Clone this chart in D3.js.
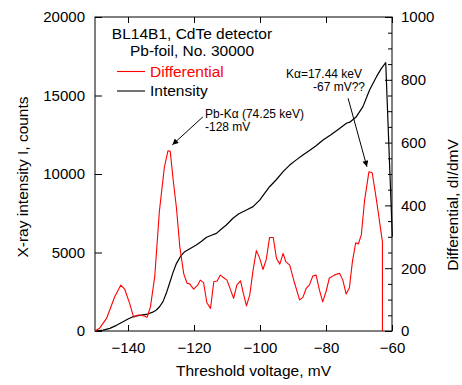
<!DOCTYPE html>
<html><head><meta charset="utf-8">
<script src="https://cdn.jsdelivr.net/npm/d3@7"></script>
<style>
body{margin:0;background:#fff}
text{font-family:"Liberation Sans",Arial,Helvetica,sans-serif;fill:#000}
</style>
</head><body>
<svg id="c" width="462" height="385"></svg>
<script>
// ---- data ----
const intensityVoltage = [-150,-147.5,-145.5,-143.5,-141.5,-140,-138.5,-136.5,-134,-132.5,-131.4,-130.4,-129.4,-128.4,-127.4,-126.4,-125.3,-124,-122.8,-121,-119.3,-117.7,-116.2,-114.7,-113.2,-111.7,-110.2,-108.2,-106.5,-105.2,-104.1,-102.1,-100.1,-98.5,-97.1,-95,-93,-91,-89,-87,-85,-83,-80.9,-78.5,-75.9,-73.8,-72.8,-70.8,-68.8,-66.8,-64.7,-63.2,-61.9,-59.9];
const intensityCounts = [0,60,170,360,590,760,910,990,1080,1200,1340,1560,1870,2400,3040,3700,4310,4780,5050,5270,5480,5720,5970,6100,6220,6500,6750,7180,7450,7600,7710,7920,8340,8800,9190,9650,10150,10570,10900,11210,11500,11800,12170,12500,12900,13230,13300,13650,14290,15350,16200,16730,17090,6000];

const diffVoltage = [-150,-148.6,-146.5,-144,-142.2,-141,-139.5,-138.3,-137,-135,-134.2,-133.2,-131.9,-130.5,-129,-127.9,-127.2,-126.3,-125.3,-124.3,-123.1,-122.1,-121.3,-120.1,-118.8,-118.1,-117.1,-116.1,-115,-114,-113,-112,-111.2,-110,-108,-107,-105.9,-105.1,-104.1,-103.1,-102.1,-101.1,-100.1,-99.1,-98.1,-97.1,-96,-95,-94,-93,-92.2,-91,-89.5,-88,-87,-86,-85,-84,-83,-82,-81,-80,-79,-77.5,-75.9,-74.9,-73.9,-72.9,-72,-71,-70.2,-69.3,-68.3,-67,-66,-64.7,-62.9,-62.9];
const differential = [0,9,40,110,146,133,88,44,51,48,44,77,173,380,520,574,572,480,390,268,182,152,150,133,147,162,154,90,72,157,159,178,171,162,104,147,160,122,80,115,194,256,232,196,228,298,298,231,213,247,221,210,152,99,107,136,147,175,178,131,93,125,168,178,184,162,118,138,221,281,277,306,417,507,504,417,284,0];

const xTickValues = [-140,-120,-100,-80,-60];
const yLeftTickValues = [0,5000,10000,15000,20000];
const yRightTickValues = [0,200,400,600,800,1000];
const yRightMinorValues = [50,100,150,250,300,350,450,500,550,650,700,750,850,900,950];

const titleLines = ["BL14B1, CdTe detector","Pb-foil, No. 30000"];
const legendLabels = ["Differential","Intensity"];
const legendColors = ["#ff0000","#000000"];

// annotations: text lines, arrow start (voltage, dI/dmV) and tip (voltage, dI/dmV)
const annotations = [
  {lines:["Pb-K\u03b1 (74.25 keV)","-128 mV"], from:[-117.3,682], to:[-126.55,593]},
  {lines:["K\u03b1=17.44 keV","-67 mV??"], from:[-73.3,741], to:[-67.6,523]}
];

// ---- layout ----
const svg = d3.select("#c");
const L = 95, R = 392, T = 17, B = 331;
const x = d3.scaleLinear().domain([-150,-60]).range([L,R]);
const yL = d3.scaleLinear().domain([0,20000]).range([B,T]);
const yR = d3.scaleLinear().domain([0,1000]).range([B,T]);

const fs = "15px";

// frame
svg.append("rect").attr("x",L).attr("y",T).attr("width",R-L).attr("height",B-T)
  .attr("fill","none").attr("stroke","#000").attr("stroke-width",1);

function styleAxis(g){
  g.select(".domain").remove();
  g.selectAll("line").attr("stroke","#000").attr("stroke-width",1);
  g.selectAll("text").attr("font-size",fs).attr("font-family","Liberation Sans, Arial, sans-serif").attr("fill","#000");
}

svg.append("g").attr("transform",`translate(0,${B})`)
  .call(d3.axisBottom(x).tickValues(xTickValues).tickSize(-6).tickSizeOuter(0).tickPadding(11).tickFormat(d3.format("d")))
  .call(styleAxis);
svg.append("g").attr("transform",`translate(0,${T})`)
  .call(d3.axisTop(x).tickValues(xTickValues).tickSize(-6).tickSizeOuter(0).tickFormat(""))
  .call(styleAxis);
svg.append("g").attr("transform",`translate(${L},0)`)
  .call(d3.axisLeft(yL).tickValues(yLeftTickValues).tickSize(-7).tickSizeOuter(0).tickPadding(10).tickFormat(d3.format("d")))
  .call(styleAxis);
svg.append("g").attr("transform",`translate(${R},0)`)
  .call(d3.axisRight(yR).tickValues(yRightTickValues).tickSize(-7).tickSizeOuter(0).tickPadding(9).tickFormat(d3.format("d")))
  .call(styleAxis);
svg.append("g").attr("transform",`translate(${R},0)`)
  .call(d3.axisRight(yR).tickValues(yRightMinorValues).tickSize(-4).tickSizeOuter(0).tickFormat(""))
  .call(styleAxis);

// axis titles
svg.append("text").attr("x",(L+R)/2+10).attr("y",376).attr("text-anchor","middle")
  .attr("font-size","15.5px").text("Threshold voltage, mV");
svg.append("text").attr("transform","translate(28,177) rotate(-90)").attr("text-anchor","middle")
  .attr("font-size","15.5px").text("X-ray intensity I, counts");
svg.append("text").attr("transform","translate(458,205) rotate(-90)").attr("text-anchor","middle")
  .attr("font-size","15.5px").text("Differential, dI/dmV");

// curves
const clipId = "plotclip";
svg.append("clipPath").attr("id",clipId).append("rect").attr("x",L).attr("y",T).attr("width",R-L+1).attr("height",B-T+1);

const lineI = d3.line().x((d,i)=>x(intensityVoltage[i])).y(d=>yL(d));
const lineD = d3.line().x((d,i)=>x(diffVoltage[i])).y(d=>yR(d));

svg.append("path").datum(intensityCounts).attr("d",lineI)
  .attr("fill","none").attr("stroke","#000").attr("stroke-width",1.2).attr("stroke-linejoin","round");
svg.append("path").datum(differential).attr("d",lineD)
  .attr("fill","none").attr("stroke","#ff0000").attr("stroke-width",1.1).attr("stroke-linejoin","round");

// title
svg.append("g").selectAll("text").data(titleLines).join("text")
  .attr("x",192).attr("y",(d,i)=>38.5+i*17).attr("text-anchor","middle")
  .attr("font-size","15.5px").text(d=>d);

// legend
const lg = svg.append("g").selectAll("g").data(legendLabels).join("g")
  .attr("transform",(d,i)=>`translate(0,${71.5+i*19.5})`);
lg.append("line").attr("x1",117).attr("x2",145).attr("y1",0).attr("y2",0)
  .attr("stroke",(d,i)=>legendColors[i]).attr("stroke-width",1.1);
lg.append("text").attr("x",150).attr("y",5.3).attr("font-size","15.5px")
  .style("fill",(d,i)=>legendColors[i]).text(d=>d);

// arrows
const defs = svg.append("defs");
defs.append("marker").attr("id","ah").attr("viewBox","0 0 10 10").attr("refX",10).attr("refY",5)
  .attr("markerWidth",10).attr("markerHeight",6).attr("markerUnits","userSpaceOnUse").attr("orient","auto")
  .append("path").attr("d","M0,0 L10,5 L0,10 Z").attr("fill","#000");

annotations.forEach((a,k)=>{
  svg.append("line").attr("x1",x(a.from[0])).attr("y1",yR(a.from[1]))
    .attr("x2",x(a.to[0])).attr("y2",yR(a.to[1]))
    .attr("stroke","#000").attr("stroke-width",1).attr("marker-end","url(#ah)");
});
// Pb label (left aligned at arrow start)
svg.append("g").selectAll("text").data(annotations[0].lines).join("text")
  .attr("x",205).attr("y",(d,i)=>117.5+i*13).attr("font-size","12px").text(d=>d);
// K-alpha label (right aligned)
svg.append("g").selectAll("text").data(annotations[1].lines).join("text")
  .attr("x",(d,i)=>i===0?362:365).attr("y",(d,i)=>78+i*13).attr("text-anchor","end")
  .attr("font-size","12px").text(d=>d);
</script>
</body></html>
